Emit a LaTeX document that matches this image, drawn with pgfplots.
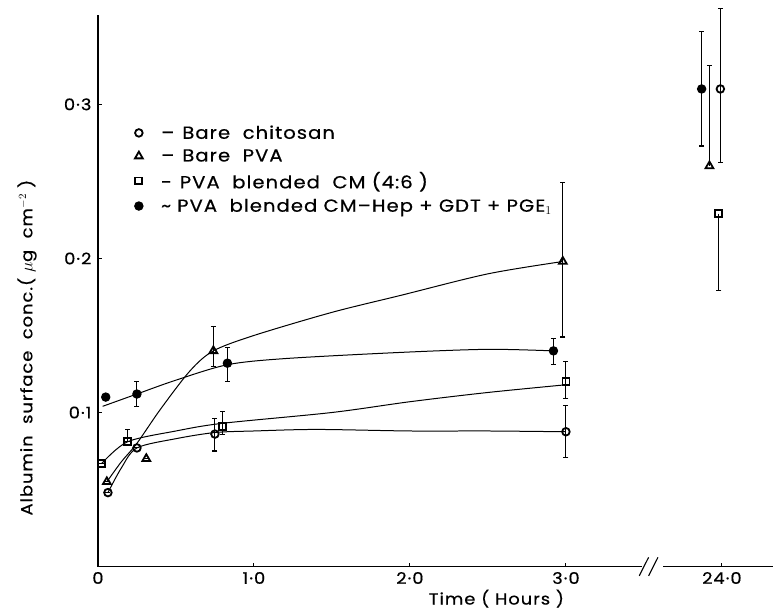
\documentclass[border=0pt]{standalone}
\usepackage{pgfplots}
\pgfplotsset{compat=1.18}
\usepackage{fontspec}
\setmainfont{Poppins}[LetterSpace=6, FakeStretch=1.12, FakeBold=0.5]
\begin{document}
\begin{tikzpicture}
\begin{axis}[
  scale only axis, width=676pt, height=552pt,
  xmin=0, xmax=4.33, ymin=0, ymax=0.358,
  axis lines=left, axis line style={-, line width=1.2pt},
  clip=false,
  tick align=inside, major tick length=4pt,
  tick style={line width=1.1pt, black},
  xtick={0,1,2,3,4}, xticklabels={0,1·0,2·0,3·0,24·0},
  ytick={0.1,0.2,0.3}, yticklabels={0·1,0·2,0·3},
  tick label style={font=\fontsize{16}{18}\selectfont},
  xticklabel style={yshift=-2pt},
  yticklabel style={xshift=-3pt},
  legend style={at={(axis cs:0.215,0.289)}, anchor=north west, draw=none, fill=none,
     font=\fontsize{17.5}{19}\selectfont, row sep=5pt, legend cell align=left},
  legend image code/.code={\draw[#1, only marks] plot coordinates {(0.3cm,0cm)};},
  every axis plot/.append style={line width=1pt, black},
  error bars/error bar style={line width=1.1pt, black},
  error bars/error mark options={rotate=90, mark size=2.5pt, line width=1.1pt},
]
% ---- fitted curves ----
\addplot[smooth, forget plot] coordinates {(0.064,0.048)(0.15,0.064)(0.25,0.077)(0.5,0.083)(0.75,0.087)(1.0,0.088)(1.4,0.089)(2.0,0.088)(2.5,0.088)(3.0,0.0875)};
\addplot[smooth, forget plot] coordinates {(0.057,0.055)(0.15,0.068)(0.25,0.080)(0.4,0.102)(0.59,0.127)(0.74,0.14)(1.0,0.15)(1.5,0.165)(1.94,0.176)(2.5,0.19)(2.98,0.198)};
\addplot[smooth, forget plot] coordinates {(0.025,0.067)(0.19,0.081)(0.5,0.088)(0.8,0.093)(1.5,0.100)(2.0,0.107)(2.5,0.113)(3.0,0.118)};
\addplot[smooth, forget plot] coordinates {(0.03,0.104)(0.25,0.112)(0.5,0.121)(0.83,0.131)(1.2,0.135)(1.94,0.139)(2.5,0.141)(2.92,0.140)};
% ---- one-sided error bars at 24 h ----
\addplot[only marks, mark=triangle, mark size=4.5pt, mark options={fill=white, line width=1.8pt}, forget plot,
  error bars/.cd, y dir=plus, y explicit] coordinates {(3.92,0.26) +- (0,0.065)};
\addplot[only marks, mark=square, mark size=3.5pt, mark options={fill=white, line width=1.8pt}, forget plot,
  error bars/.cd, y dir=minus, y explicit] coordinates {(3.98,0.229) +- (0,0.05)};
% ---- data points ----
\addplot[only marks, mark=o, mark size=3.8pt, mark options={fill=white, line width=1.8pt},
  error bars/.cd, y dir=both, y explicit] coordinates {
  (0.064,0.048) +- (0,0)
  (0.25,0.077) +- (0,0)
  (0.75,0.086) += (0,0.010) -= (0,0.011)
  (3.0,0.0875) +- (0,0.017)
  (3.99,0.31) += (0,0.052) -= (0,0.048)
};
\addlegendentry{\hspace{16pt}–\hspace{8pt}Bare\ \ chitosan}
\addplot[only marks, mark=triangle, mark size=4.5pt, mark options={fill=white, line width=1.8pt},
  error bars/.cd, y dir=both, y explicit] coordinates {
  (0.057,0.055) +- (0,0)
  (0.31,0.070) +- (0,0)
  (0.74,0.14) += (0,0.016) -= (0,0.01)
  (2.98,0.198) += (0,0.051) -= (0,0.049)
};
\addlegendentry{\hspace{16pt}–\hspace{8pt}Bare\ \ PVA}
\addplot[only marks, mark=square, mark size=3.5pt, mark options={fill=white, line width=1.8pt},
  error bars/.cd, y dir=both, y explicit] coordinates {
  (0.025,0.067) +- (0,0)
  (0.19,0.081) += (0,0.008) -= (0,0)
  (0.80,0.091) += (0,0.0095) -= (0,0.005)
  (3.0,0.12) += (0,0.013) -= (0,0.011)
};
\addlegendentry{\hspace{16pt}-\hspace{8pt}PVA\ \ blended\ \ CM (4:6 )}
\addplot[only marks, mark=*, mark size=4.2pt, mark options={fill=black},
  error bars/.cd, y dir=both, y explicit] coordinates {
  (0.05,0.11) +- (0,0)
  (0.25,0.112) +- (0,0.008)
  (0.83,0.132) += (0,0.010) -= (0,0.012)
  (2.92,0.14) += (0,0.008) -= (0,0.009)
  (3.87,0.31) +- (0,0.037)
};
\addlegendentry{\hspace{16pt}\textasciitilde\hspace{6pt}PVA\ \ blended CM–Hep + GDT + PGE$_1$}
% axis break
\fill[white] (axis cs:3.49,-0.004) rectangle (axis cs:3.62,0.004);
\draw[line width=1.1pt] (axis cs:3.47,-0.006) -- (axis cs:3.53,0.006);
\draw[line width=1.1pt] (axis cs:3.53,-0.006) -- (axis cs:3.59,0.006);
% labels
\node[rotate=90, font=\fontsize{16}{18}\selectfont] at (rel axis cs:-0.105,0.397) {Albumin\ \ surface\ \ conc.( $\mu$g\ \ cm$^{-2}$ )};
\node[font=\fontsize{16}{18}\selectfont] at (rel axis cs:0.59,-0.058) {Time ( Hours )};
\path[use as bounding box] (rel axis cs:-0.145,-0.0815) rectangle (rel axis cs:1,1.0272);
\end{axis}
\end{tikzpicture}
\end{document}
